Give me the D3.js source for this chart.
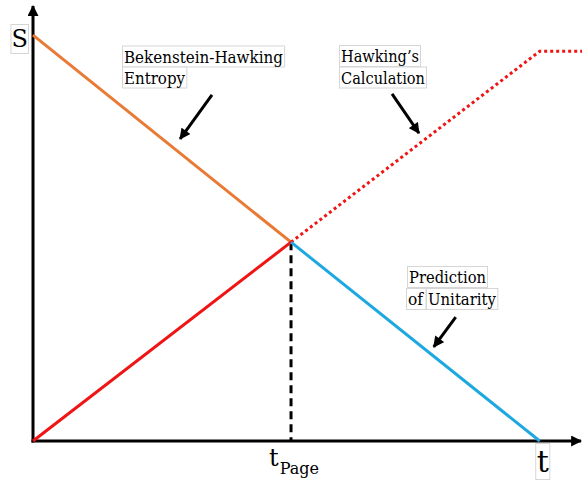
<!DOCTYPE html>
<html>
<head>
<meta charset="utf-8">
<script src="https://cdn.jsdelivr.net/npm/d3@7"></script>
<style>
  html, body { margin: 0; padding: 0; background: #fff; }
  svg { display: block; }
</style>
</head>
<body>
<svg id="chart" width="582" height="480"></svg>
<script>
// ---------- data (arbitrary units: t horizontal, S vertical) ----------
const tPage = 4.70;          // Page time
const tEvap = 9.23;          // evaporation time
const sInitial = 9.31;       // initial Bekenstein-Hawking entropy
const sPage = 4.56;          // entropy at Page time
const sHawkingMax = 8.94;    // plateau of Hawking's calculation

const bekensteinHawking = [{t: 0, s: sInitial}, {t: tPage, s: sPage}];
const radiationEarly    = [{t: 0, s: 0}, {t: tPage, s: sPage}];
const hawkingCalc       = [{t: tPage, s: sPage}, {t: tEvap, s: sHawkingMax}, {t: 10, s: sHawkingMax}];
const unitarity         = [{t: tPage, s: sPage}, {t: tEvap, s: 0}];

const xTickLabels = [{t: tPage, main: "t", sub: "Page"}, {t: tEvap, main: "t", sub: ""}];
const axisLabels = {x: "t", y: "S"};

const annotationArrows = [
  {from: [3.26, 7.94], to: [2.68, 6.93]},
  {from: [6.54, 7.96], to: [7.03, 7.06]},
  {from: [7.70, 2.84], to: [7.30, 2.16]}
];
const annotationTexts = [
  ["Bekenstein-Hawking", "Entropy"],
  ["Hawking\u2019s", "Calculation"],
  ["Prediction", "of", "Unitarity"]
];

// ---------- layout ----------
const FONT = "DejaVu Serif";
const origin = {x: 33, y: 441};
const x = d3.scaleLinear().domain([0, 10]).range([origin.x, 582]);
const y = d3.scaleLinear().domain([0, 10]).range([origin.y, 5]);

const svg = d3.select("#chart");
const colors = {orange: "#E97A35", red: "#F01414", blue: "#1EA8E0", black: "#000"};

const defs = svg.append("defs");
defs.append("marker")
  .attr("id", "head")
  .attr("viewBox", "0 0 10 10")
  .attr("refX", 9).attr("refY", 5)
  .attr("markerUnits", "userSpaceOnUse")
  .attr("markerWidth", 12).attr("markerHeight", 11)
  .attr("orient", "auto")
  .append("path").attr("d", "M0,0 L10,5 L0,10 Z").attr("fill", "#000");

const line = d3.line().x(d => x(d.t)).y(d => y(d.s));

svg.append("line")
  .attr("x1", x(0)).attr("y1", y(0) + 1.5)
  .attr("x2", x(0)).attr("y2", y(10) + 1)
  .attr("stroke", "#000").attr("stroke-width", 3)
  .attr("marker-end", "url(#head)");
svg.append("line")
  .attr("x1", x(0) - 1.5).attr("y1", y(0))
  .attr("x2", x(10) - 1).attr("y2", y(0))
  .attr("stroke", "#000").attr("stroke-width", 3)
  .attr("marker-end", "url(#head)");

svg.append("line")
  .attr("x1", x(tPage)).attr("y1", y(sPage))
  .attr("x2", x(tPage)).attr("y2", y(0))
  .attr("stroke", "#000").attr("stroke-width", 3)
  .attr("stroke-dasharray", "8,5");

svg.append("path").datum(bekensteinHawking).attr("d", line)
  .attr("fill", "none").attr("stroke", colors.orange).attr("stroke-width", 3);
svg.append("path").datum(radiationEarly).attr("d", line)
  .attr("fill", "none").attr("stroke", colors.red).attr("stroke-width", 3);
svg.append("path").datum(hawkingCalc).attr("d", line)
  .attr("fill", "none").attr("stroke", colors.red).attr("stroke-width", 3)
  .attr("stroke-dasharray", "3,3");
svg.append("path").datum(unitarity).attr("d", line)
  .attr("fill", "none").attr("stroke", colors.blue).attr("stroke-width", 3);

annotationArrows.forEach(a => {
  svg.append("line")
    .attr("x1", x(a.from[0])).attr("y1", y(a.from[1]))
    .attr("x2", x(a.to[0])).attr("y2", y(a.to[1]))
    .attr("stroke", "#000").attr("stroke-width", 3)
    .attr("marker-end", "url(#head)");
});

function boxedText(str, px, py, size, pad, len) {
  const g = svg.append("g");
  const rect = g.append("rect");
  const t = g.append("text").attr("x", px).attr("y", py)
    .style("font-family", FONT).attr("fill", "#000")
    .attr("font-size", size).text(str);
  if (len) t.attr("textLength", len).attr("lengthAdjust", "spacingAndGlyphs");
  const b = t.node().getBBox();
  rect.attr("x", b.x - pad).attr("y", b.y - 0.5)
    .attr("width", b.width + 2 * pad).attr("height", b.height + 1)
    .attr("fill", "#fff").attr("stroke", "#d6d6d6").attr("stroke-width", 1);
  return t;
}

// label layout: [x, baseline y, width]
const labelLayout = [
  [[124, 62.5, 159], [124, 83.5, 61]],
  [[341, 62, 78], [341, 83.5, 84]],
  [[409, 283, 77], [408, 305, 15], [428, 305, 68]]
];
annotationTexts.forEach((lines, i) => {
  lines.forEach((ln, j) => {
    const L = labelLayout[i][j];
    boxedText(ln, L[0], L[1], 17, 1.5, L[2]);
  });
});

boxedText(axisLabels.y, 11.5, 47, 24, 0.5);

const pageLbl = xTickLabels[0];
const tp = svg.append("text").attr("x", x(pageLbl.t) - 22).attr("y", 466)
  .style("font-family", FONT).attr("fill", "#000")
  .attr("font-size", 24);
tp.append("tspan").text(pageLbl.main);
tp.append("tspan").attr("font-size", 16).attr("dy", 8).attr("dx", 1).text(pageLbl.sub);

boxedText(axisLabels.x, x(tEvap) - 3, 472, 30, 1);
</script>
</body>
</html>
